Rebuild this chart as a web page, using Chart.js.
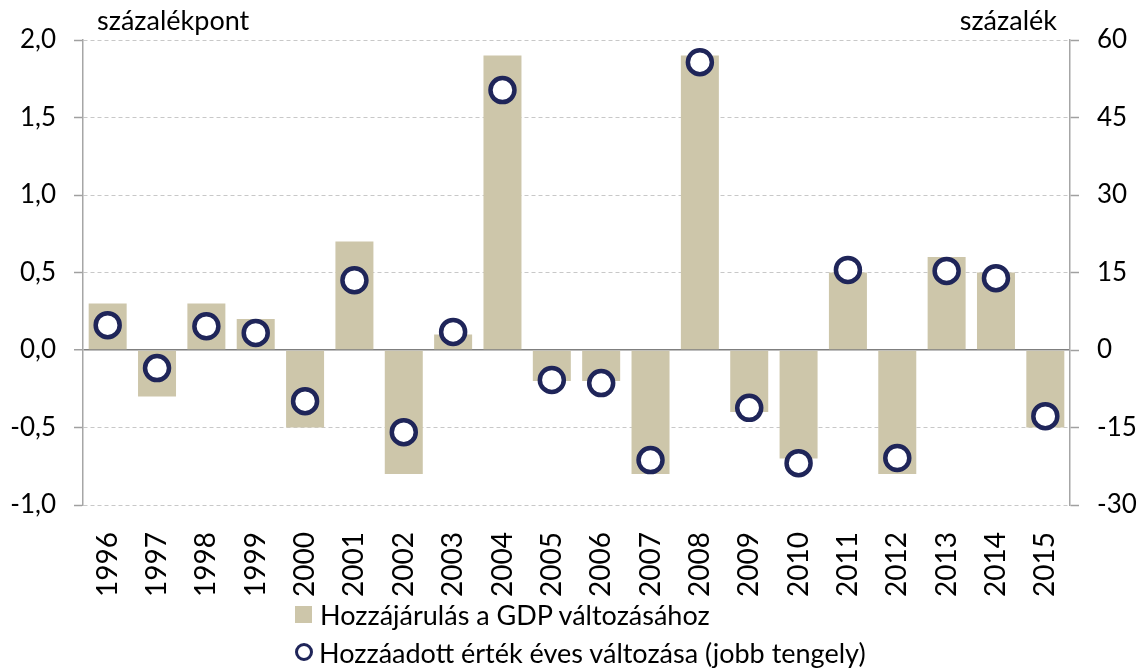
<!DOCTYPE html>
<html>
<head>
<meta charset="utf-8">
<script src="https://cdn.jsdelivr.net/npm/chart.js@4"></script>
<style>
  html, body { margin: 0; padding: 0; background: #fff; }
  #wrap { position: relative; width: 1140px; height: 668px; }
  #legend { position: absolute; left: 295px; top: 595px; font-family: Lato, "Open Sans", sans-serif; font-size: 27px; color: #000; }
  .item { display: flex; align-items: center; height: 38px; }
  .sq { width: 17px; height: 17px; background: #cdc6aa; margin-right: 8px; }
  .ci { width: 12px; height: 12px; border: 3.5px solid #1f2559; border-radius: 50%; margin-right: 6px; background: #fff; }
</style>
</head>
<body>
<div id="wrap">
  <canvas id="c" width="1140" height="668"></canvas>
  <div id="legend">
    <div class="item"><span class="sq"></span><span>Hozzájárulás a GDP változásához</span></div>
    <div class="item"><span class="ci"></span><span>Hozzáadott érték éves változása (jobb tengely)</span></div>
  </div>
</div>
<script>
const years = ['1996','1997','1998','1999','2000','2001','2002','2003','2004','2005','2006','2007','2008','2009','2010','2011','2012','2013','2014','2015'];
const contribution = [0.3, -0.3, 0.3, 0.2, -0.5, 0.7, -0.8, 0.1, 1.9, -0.2, -0.2, -0.8, 1.9, -0.4, -0.7, 0.5, -0.8, 0.6, 0.5, -0.5];
const valueAddedChange = [4.8, -3.5, 4.6, 3.3, -9.9, 13.5, -15.9, 3.5, 50.3, -5.8, -6.4, -21.3, 55.7, -11.2, -21.9, 15.5, -20.9, 15.3, 13.9, -12.8];
const seriesNames = ['Hozzájárulás a GDP változásához', 'Hozzáadott érték éves változása (jobb tengely)'];
const leftTitle = 'százalékpont';
const rightTitle = 'százalék';

const FONT = 'Lato, "Open Sans", sans-serif';

const titlesPlugin = {
  id: 'titles',
  afterDraw(chart) {
    const ctx = chart.ctx;
    ctx.save();
    ctx.font = '27px ' + FONT;
    ctx.fillStyle = '#000';
    ctx.textBaseline = 'alphabetic';
    ctx.textAlign = 'left';
    ctx.fillText(leftTitle, chart.chartArea.left + 14, 30);
    ctx.textAlign = 'right';
    ctx.fillText(rightTitle, chart.chartArea.right - 13, 30);
    ctx.restore();
  }
};

new Chart(document.getElementById('c'), {
  data: {
    labels: years,
    datasets: [
      {
        type: 'line',
        label: seriesNames[1],
        data: valueAddedChange,
        yAxisID: 'y2',
        showLine: false,
        pointRadius: 12,
        pointHoverRadius: 12,
        pointBorderWidth: 4.5,
        pointBorderColor: '#1f2559',
        pointBackgroundColor: '#ffffff',
        order: 0
      },
      {
        type: 'bar',
        label: seriesNames[0],
        data: contribution,
        yAxisID: 'y',
        backgroundColor: '#cdc6aa',
        categoryPercentage: 1,
        barPercentage: 0.77,
        order: 1
      }
    ]
  },
  options: {
    responsive: false,
    animation: false,
    events: [],
    layout: { padding: { top: 40, left: 0, right: 0, bottom: 0 } },
    plugins: { legend: { display: false }, tooltip: { enabled: false } },
    scales: {
      x: {
        offset: true,
        grid: { display: false, drawTicks: false },
        border: { display: false },
        ticks: { minRotation: 90, maxRotation: 90, padding: 27, color: '#000', font: { family: FONT, size: 28 } },
        afterFit(s) { s.height = 163; }
      },
      y: {
        position: 'left',
        min: -1, max: 2,
        ticks: { stepSize: 0.5, padding: 18, color: '#000', font: { family: FONT, size: 26 },
          callback: v => v.toFixed(1).replace('.', ',') },
        grid: {
          color: c => (c.tick && c.tick.value === 0) ? '#7f7f7f' : '#c8c8c8',
          lineWidth: c => (c.tick && c.tick.value === 0) ? 1.5 : 1,
          tickColor: '#a0a0a0',
          tickLength: 9,
          tickWidth: 1.5
        },
        border: {
          display: true, color: '#a6a6a6', width: 1.5,
          dash: c => (c.tick && c.tick.value === 0) ? [] : [4, 3]
        },
        afterFit(s) { s.width = 83; }
      },
      y2: {
        position: 'right',
        min: -30, max: 60,
        ticks: { stepSize: 15, padding: 18, color: '#000', font: { family: FONT, size: 26 } },
        grid: { drawOnChartArea: false, tickColor: '#a0a0a0', tickLength: 9, tickWidth: 1.5 },
        border: { display: true, color: '#a6a6a6', width: 1.5 },
        afterFit(s) { s.width = 70; }
      }
    }
  },
  plugins: [titlesPlugin]
});
</script>
</body>
</html>
